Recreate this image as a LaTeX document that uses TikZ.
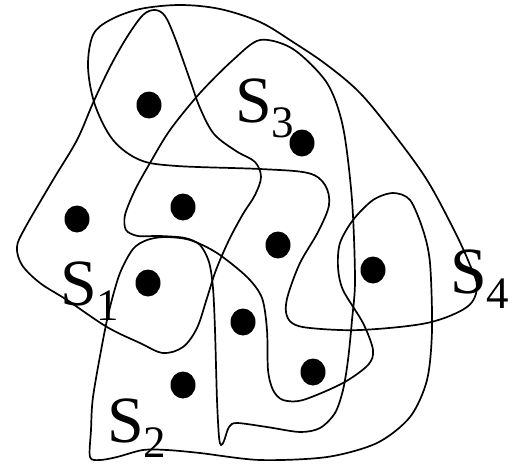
\documentclass[tikz,border=0pt]{standalone}
\usepackage{fontspec}
\setmainfont{Liberation Serif}
\usepackage{tikz}
\usetikzlibrary{shapes.geometric}
\newcommand{\setname}[1]{S\raisebox{-15pt}{\fontsize{45}{45}\selectfont #1}}
\begin{document}
\begin{tikzpicture}[
  x=1pt, y=-1pt,
  dot/.style={ellipse, fill=black, inner sep=0pt, minimum width=25pt, minimum height=27pt},
  setline/.style={line width=1.7pt, line join=round},
  setlbl/.style={anchor=base west, inner sep=0pt, font=\fontsize{66}{66}\selectfont}
]
\useasboundingbox (0,0) rectangle (519,466);
\draw[setline] plot[smooth cycle, tension=0.55] coordinates {
  (155,10) (165,16) (175,38) (190,80) (200,108) (214,134) (236,151) (255,162)
  (261,177) (255,195) (243,214) (229,240) (216,270) (207,298) (197,328) (183,347)
  (163,353) (140,343) (107,327) (67,300) (40,283) (22,265) (17,247) (25,228)
  (53,180) (77,140) (93,103) (110,67) (127,37) (143,15)};
\draw[setline] plot[smooth cycle, tension=0.55] coordinates {
  (180,5) (220,9) (260,22) (293,42) (327,65) (360,93) (393,133) (427,180)
  (455,232) (470,265) (477,287) (467,307) (427,323) (360,330) (310,328) (292,323)
  (286,312) (288,295) (300,263) (318,232) (329,205) (325,185) (308,173) (260,169)
  (177,166) (140,160) (113,140) (95,105) (88,67) (93,35) (110,20) (140,9)};
\draw[setline] plot[smooth cycle, tension=0.5] coordinates {
  (260,40) (293,49) (327,83) (343,127) (352,200) (355,280) (352,320) (348,360)
  (343,390) (335,413) (320,428) (300,432) (267,427) (237,423) (229,427) (224,441)
  (221,445) (219,437) (217,400) (215,330) (213,288) (209,262) (200,245) (185,238)
  (160,236) (138,236) (126,230) (125,215) (135,190) (150,163) (170,130) (200,93)
  (233,60)};
\draw[setline] plot[smooth cycle, tension=0.5] coordinates {
  (90,457) (100,460) (117,457) (143,450) (167,450) (200,453) (260,460) (327,457)
  (377,443) (410,417) (427,380) (432,330) (430,263) (423,230) (410,200) (393,193)
  (373,200) (353,220) (340,243) (338,267) (343,290) (363,323) (373,350) (368,365)
  (343,383) (303,400) (283,400) (273,390) (268,370) (267,330) (262,298) (247,277)
  (217,253) (190,240) (165,237) (147,240) (133,249) (120,273) (110,307) (103,340)
  (93,397) (91,430)};
\node[dot] (v1) at (149,105) {};
\node[dot] (v2) at (302,143) {};
\node[dot] (v3) at (77,219) {};
\node[dot] (v4) at (183,207) {};
\node[dot] (v5) at (278,245) {};
\node[dot] (v6) at (148,283) {};
\node[dot] (v7) at (373,270) {};
\node[dot] (v8) at (243,322) {};
\node[dot] (v9) at (313,372) {};
\node[dot] (v10) at (183,385) {};
\node[setlbl] (s1) at (60,305) {\setname{1}};
\node[setlbl] (s2) at (107,442) {\setname{2}};
\node[setlbl] (s3) at (235,122) {\setname{3}};
\node[setlbl] (s4) at (450,293) {\setname{4}};
\end{tikzpicture}
\end{document}
